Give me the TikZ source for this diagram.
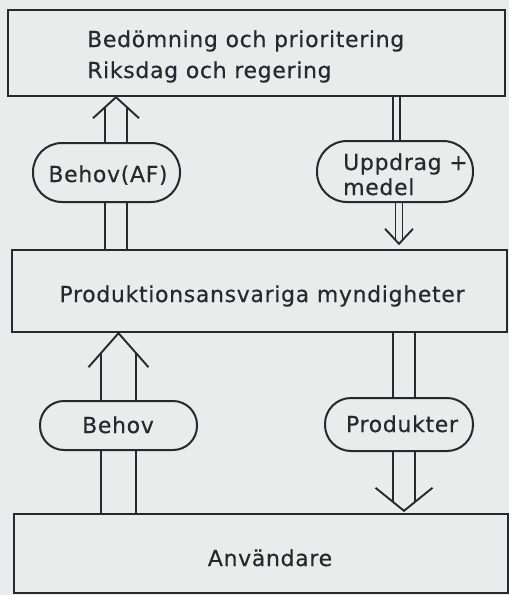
\documentclass[tikz,border=0pt]{standalone}
\usepackage{fontspec}
\setmainfont{DejaVu Sans}[LetterSpace=3,FakeBold=0.4]
\usetikzlibrary{calc}
\definecolor{paper}{RGB}{233,236,234}
\definecolor{ink}{RGB}{40,40,48}
\begin{document}
\begin{tikzpicture}[x=1pt,y=-1pt,
  boxnode/.style={draw=ink,line width=2.4pt,fill=paper,inner sep=0pt},
  pillnode/.style={draw=ink,line width=2pt,fill=paper,inner sep=0pt},
  lbl/.style={text=ink,inner sep=0pt,font=\fontsize{22}{19}\selectfont},
  arrline/.style={draw=ink,line width=1.9pt,line join=miter}]
% page
\fill[paper] (0,0) rectangle (509,595);
\useasboundingbox (0,0) rectangle (509,595);

% the three levels
\node[boxnode,minimum width=497pt,minimum height=86pt] (top) at (256.5,53) {};
\node[boxnode,minimum width=495pt,minimum height=82pt] (mid) at (259.5,291) {};
\node[boxnode,minimum width=494pt,minimum height=79pt] (bot) at (261,553.5) {};

\node[lbl,anchor=base west] (t1) at (87,47) {Bedömning och prioritering};
\node[lbl,anchor=base west] (t2) at (87,78) {Riksdag och regering};
\node[lbl,anchor=base] (tm) at (262,302) {Produktionsansvariga myndigheter};
\node[lbl,anchor=base] (tb) at (270,566) {Användare};

% flow labels
\node[pillnode,minimum width=147pt,minimum height=59pt,rounded corners=29pt] (p1) at (106.5,172.5) {};
\node[pillnode,minimum width=156pt,minimum height=61pt,rounded corners=30pt] (p2) at (395,171.5) {};
\node[pillnode,minimum width=157pt,minimum height=49pt,rounded corners=24pt] (p3) at (118.5,425.5) {};
\node[pillnode,minimum width=148pt,minimum height=53pt,rounded corners=26pt] (p4) at (399,424.5) {};

\node[lbl,anchor=base] (l1) at (108,182) {Behov(AF)};
\node[lbl,anchor=base west] (l2a) at (343,170) {Uppdrag +};
\node[lbl,anchor=base west] (l2b) at (343,195) {medel};
\node[lbl,anchor=base] (l3) at (118,433) {Behov};
\node[lbl,anchor=base] (l4) at (402,432) {Produkter};

% arrow axes
\coordinate (a1) at (116,0);
\coordinate (a2u) at (396.5,0);
\coordinate (a2) at (399,0);
\coordinate (a3) at (118.5,0);
\coordinate (a4) at (404,0);

% Behov(AF): upward, into the top box
\coordinate (h1) at (top.south -| a1);
\draw[arrline] ($(h1)+(-23,21)$) -- (h1) -- ($(h1)+(23,21)$);
\draw[arrline] ($(p1.north -| a1)+(-11,0)$) -- ($(h1)+(-11,10.04)$);
\draw[arrline] ($(p1.north -| a1)+(11,0)$) -- ($(h1)+(11,10.04)$);
\draw[arrline] ($(mid.north -| a1)+(-11,0)$) -- ($(p1.south -| a1)+(-11,0)$);
\draw[arrline] ($(mid.north -| a1)+(11,0)$) -- ($(p1.south -| a1)+(11,0)$);

% Uppdrag + medel: downward, into the middle box
\draw[arrline] ($(top.south -| a2u)+(-3.5,0)$) -- ($(p2.north -| a2u)+(-3.5,0)$);
\draw[arrline] ($(top.south -| a2u)+(3.5,0)$) -- ($(p2.north -| a2u)+(3.5,0)$);
\coordinate (h2) at ($(mid.north -| a2)+(0,-5)$);
\draw[arrline] ($(h2)+(-14,-15)$) -- (h2) -- ($(h2)+(14,-15)$);
\draw[arrline] ($(p2.south -| a2)+(-3.5,0)$) -- ($(h2)+(-3.5,-3.75)$);
\draw[arrline] ($(p2.south -| a2)+(3.5,0)$) -- ($(h2)+(3.5,-3.75)$);

% Behov: upward, into the middle box
\coordinate (h3) at (mid.south -| a3);
\draw[arrline] ($(h3)+(-30,34)$) -- (h3) -- ($(h3)+(30,34)$);
\draw[arrline] ($(p3.north -| a3)+(-17.5,0)$) -- ($(h3)+(-17.5,19.83)$);
\draw[arrline] ($(p3.north -| a3)+(17.5,0)$) -- ($(h3)+(17.5,19.83)$);
\draw[arrline] ($(bot.north -| a3)+(-17.5,0)$) -- ($(p3.south -| a3)+(-17.5,0)$);
\draw[arrline] ($(bot.north -| a3)+(17.5,0)$) -- ($(p3.south -| a3)+(17.5,0)$);

% Produkter: downward, into the bottom box
\draw[arrline] ($(mid.south -| a4)+(-11,0)$) -- ($(p4.north -| a4)+(-11,0)$);
\draw[arrline] ($(mid.south -| a4)+(11,0)$) -- ($(p4.north -| a4)+(11,0)$);
\coordinate (h4) at ($(bot.north -| a4)+(0,-2)$);
\draw[arrline] ($(h4)+(-28.5,-23)$) -- (h4) -- ($(h4)+(28.5,-23)$);
\draw[arrline] ($(p4.south -| a4)+(-11,0)$) -- ($(h4)+(-11,-8.88)$);
\draw[arrline] ($(p4.south -| a4)+(11,0)$) -- ($(h4)+(11,-8.88)$);
\end{tikzpicture}
\end{document}
